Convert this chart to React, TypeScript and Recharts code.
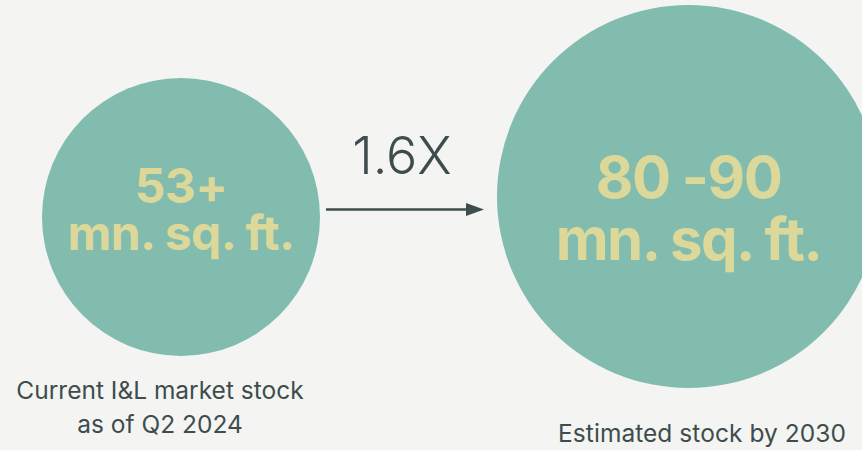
import { ScatterChart, Scatter, XAxis, YAxis, ZAxis, ReferenceLine } from "recharts";

// stock in mn. sq. ft. (right bubble = midpoint of the 80-90 range)
const stockValues = [53, 85];
const valueLabels = ["53+", "80 -90"];
const unitLabels = ["mn. sq. ft.", "mn. sq. ft."];
const captions = [["Current I&L market stock", "as of Q2 2024"], ["Estimated stock by 2030"]];
const growthLabel = "1.6X";

const W = 862;
const H = 450;
const BUBBLE = "#82bcae";
const VALUE_TEXT = "#dbd899";
const DARK = "#3e4d4c";

// pixel layout -> axis domains (so the library's scales place the bubbles)
const px = { x: [181, 688.5], y: [217, 196.5], r: [139, 191.5] };
const kx = (px.x[1] - px.x[0]) / (stockValues[1] - stockValues[0]);
const xDomain = [stockValues[0] - px.x[0] / kx, stockValues[0] + (W - px.x[0]) / kx];
const ky = (px.y[0] - px.y[1]) / (stockValues[1] - stockValues[0]);
const yDomain = [stockValues[0] - (H - px.y[0]) / ky, stockValues[0] + px.y[0] / ky];
const zRange = px.r.map((r) => Math.PI * r * r);
const xAt = (p: number) => xDomain[0] + p / kx;
const yAt = (p: number) => yDomain[1] - p / ky;

const labelStyle = [
  { fontSize: 48, ls: -0.6, dy1: -14, dy2: 33, capDx: -21, capY: [399, 433], capLs: 0 },
  { fontSize: 58, ls: -1.5, dy1: 1.5, dy2: 63.5, capDx: 13.5, capY: [442], capLs: 0.05 },
];

const data = stockValues.map((stock, i) => ({
  stock,
  value: valueLabels[i],
  unit: unitLabels[i],
  caption: captions[i],
  idx: i,
}));

const Bubble = (props: any) => {
  const { cx, cy, width, size, payload } = props;
  const r = width ? width / 2 : Math.sqrt(size / Math.PI);
  const s = labelStyle[payload.idx];
  return (
    <g>
      <circle cx={cx} cy={cy} r={r} fill={BUBBLE} />
      <text
        textAnchor="middle"
        fill={VALUE_TEXT}
        fontSize={s.fontSize}
        fontWeight={700}
        fontFamily="Inter"
        letterSpacing={s.ls}
      >
        <tspan x={cx} y={cy + s.dy1}>
          {payload.value}
        </tspan>
        <tspan x={cx} y={cy + s.dy2}>
          {payload.unit}
        </tspan>
      </text>
      {payload.caption.map((c: string, j: number) => (
        <text
          key={j}
          x={cx + s.capDx}
          y={s.capY[j]}
          textAnchor="middle"
          fill={DARK}
          fontSize={24.5}
          letterSpacing={s.capLs}
          fontFamily="Inter"
        >
          {c}
        </text>
      ))}
    </g>
  );
};

const Arrow = (props: any) => {
  const { x1, y1, x2, y2 } = props;
  const mid = (x1 + x2) / 2;
  return (
    <g>
      <line x1={x1} y1={y1} x2={x2 - 16} y2={y2} stroke={DARK} strokeWidth={2.5} />
      <polygon points={`${x2},${y2} ${x2 - 18},${y2 - 6.5} ${x2 - 18},${y2 + 6.5}`} fill={DARK} />
      <text x={mid - 3} y={y1 - 36} textAnchor="middle" fill={DARK} fontSize={52} fontWeight={300} fontFamily="Inter">
        {growthLabel}
      </text>
    </g>
  );
};

export default function App() {
  return (
    <div style={{ position: "absolute", left: 0, top: 0, width: W, height: H, background: "#f4f4f3" }}>
      <ScatterChart width={W} height={H} margin={{ top: 0, right: 0, bottom: 0, left: 0 }}>
        <XAxis type="number" dataKey="stock" domain={xDomain} allowDataOverflow hide />
        <YAxis type="number" dataKey="stock" domain={yDomain} allowDataOverflow hide />
        <ZAxis type="number" dataKey="stock" domain={stockValues} range={zRange} />
        <ReferenceLine
          segment={[
            { x: xAt(326), y: yAt(209.5) },
            { x: xAt(484), y: yAt(209.5) },
          ]}
          ifOverflow="visible"
          shape={Arrow}
        />
        <Scatter data={data} shape={Bubble} isAnimationActive={false} />
      </ScatterChart>
    </div>
  );
}
